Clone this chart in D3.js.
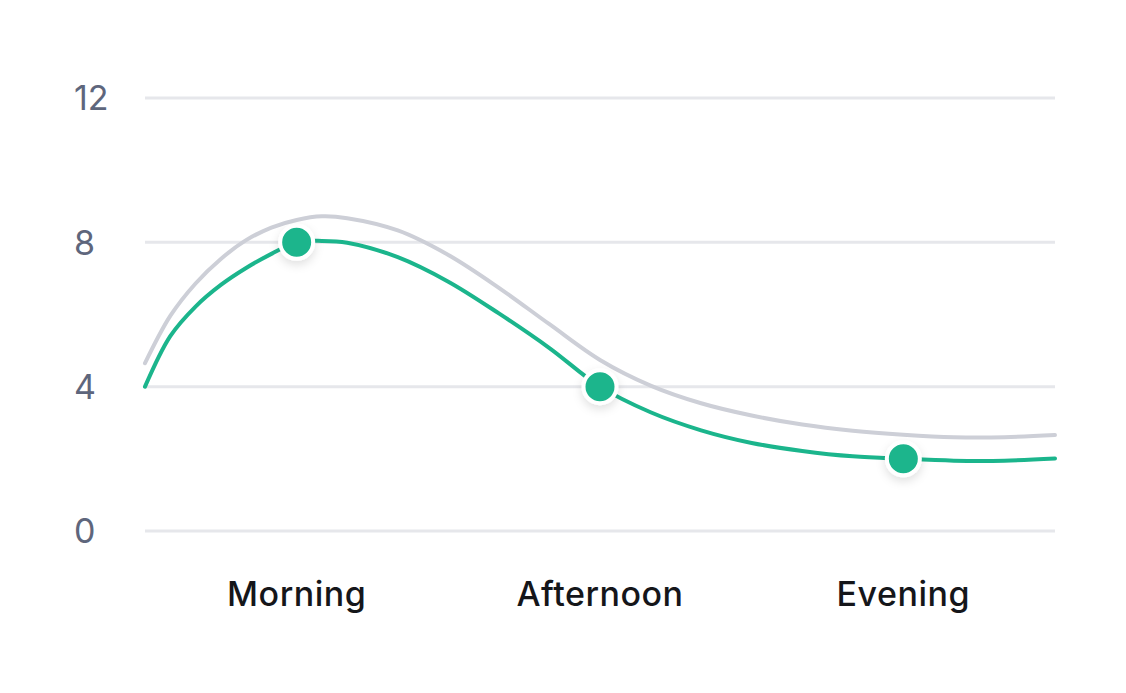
<!DOCTYPE html>
<html><head><meta charset="utf-8">
<script src="https://cdn.jsdelivr.net/npm/d3@7"></script>
<style>
html,body{margin:0;padding:0;background:#fff;}
svg{display:block;}
</style></head>
<body>
<svg id="chart" width="1126" height="693"></svg>
<script>
const categories = ["Morning", "Afternoon", "Evening"];
const categoryHours = [9, 15, 21];
const categoryValues = [8, 4, 2];
// curve readings (hour of day -> value)
const sampleHours = [6, 6.5, 7, 7.5, 8, 8.5, 9, 9.5, 10, 11, 12, 13, 14, 15, 16, 17, 18, 19, 20, 21, 22, 23, 24];
const currentValues = [4.00, 5.40, 6.22, 6.82, 7.29, 7.68, 8.00, 8.04, 7.99, 7.59, 6.91, 6.03, 5.07, 4.00, 3.29, 2.79, 2.44, 2.22, 2.07, 2.00, 1.95, 1.95, 2.01];
const previousValues = [4.65, 5.96, 6.86, 7.54, 8.06, 8.41, 8.62, 8.72, 8.67, 8.33, 7.65, 6.74, 5.73, 4.74, 4.03, 3.54, 3.20, 2.95, 2.78, 2.67, 2.60, 2.60, 2.66];
const yTicks = [0, 4, 8, 12];

(function () {
const svg = d3.select("#chart");
const x0 = 145, x1 = 1055, yTop = 98, yBottom = 531;

const x = d3.scaleLinear().domain([6, 24]).range([x0, x1]);
const y = d3.scaleLinear().domain([0, 12]).range([yBottom, yTop]);

const defs = svg.append("defs");
const f = defs.append("filter").attr("id", "sh").attr("x", "-50%").attr("y", "-50%").attr("width", "200%").attr("height", "200%");
f.append("feDropShadow").attr("dx", 0).attr("dy", 4).attr("stdDeviation", 5).attr("flood-color", "#000").attr("flood-opacity", 0.12);

svg.append("g").selectAll("line").data(yTicks).join("line")
  .attr("x1", x0).attr("x2", x1)
  .attr("y1", d => y(d)).attr("y2", d => y(d))
  .attr("stroke", "#e6e7eb").attr("stroke-width", 3);

svg.append("g").selectAll("text").data(yTicks).join("text")
  .attr("x", 74).attr("y", d => y(d)).attr("dy", "0.36em")
  .attr("font-family", "Inter, sans-serif").attr("font-size", 34)
  .attr("fill", "#5e667c").text(d => d);

svg.append("g").selectAll("text").data(categories).join("text")
  .attr("x", (d, i) => x(categoryHours[i])).attr("y", 606).attr("text-anchor", "middle")
  .attr("font-family", "Inter, sans-serif").attr("font-size", 34).attr("font-weight", 500)
  .attr("letter-spacing", 0.5)
  .attr("fill", "#15161a").text(d => d);

const line = d3.line().x(d => x(d[0])).y(d => y(d[1])).curve(d3.curveCatmullRom.alpha(0.5));

svg.append("path").datum(sampleHours.map((h, i) => [h, previousValues[i]])).attr("d", line)
  .attr("fill", "none").attr("stroke", "#cdcfd7").attr("stroke-width", 4).attr("stroke-linecap", "round");
svg.append("path").datum(sampleHours.map((h, i) => [h, currentValues[i]])).attr("d", line)
  .attr("fill", "none").attr("stroke", "#1bb58c").attr("stroke-width", 4).attr("stroke-linecap", "round");

svg.append("g").selectAll("circle").data(categories).join("circle")
  .attr("cx", (d, i) => x(categoryHours[i])).attr("cy", (d, i) => y(categoryValues[i]))
  .attr("r", 16.5).attr("fill", "#1bb58c").attr("stroke", "#fff").attr("stroke-width", 4)
  .attr("filter", "url(#sh)");
})();
</script>
</body></html>
